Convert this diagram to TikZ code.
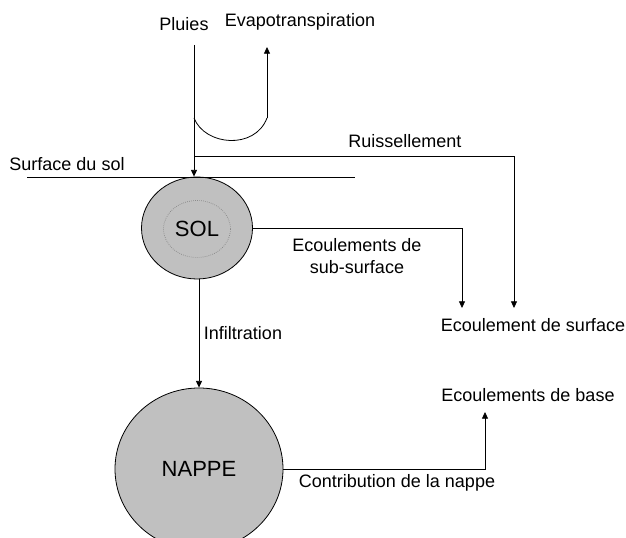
\documentclass[tikz,border=0pt]{standalone}
\usepackage{fontspec}
\setmainfont{Liberation Sans}
\usepackage{tikz}
\usetikzlibrary{shapes.geometric,arrows.meta}

\definecolor{reservoir}{RGB}{192,192,192}

\tikzset{
  flow/.style={line width=0.6pt,-{Triangle[length=5pt,width=4.5pt]}},
  plain/.style={line width=0.6pt},
  label/.style={inner sep=0.75pt,align=center,font=\fontsize{13.5}{16}\selectfont},
  tank/.style={ellipse,draw,line width=0.6pt,fill=reservoir,inner sep=0pt,font=\fontsize{16.5}{19}\selectfont}
}

\begin{document}
\begin{tikzpicture}[x=0.75pt,y=0.75pt,yscale=-1,xscale=1]
\useasboundingbox (0,0) rectangle (626,538);

% Reservoirs
\node [tank,minimum width=83.25pt,minimum height=76.5pt] (sol) at (197,228) {};
\node [ellipse,draw,densely dotted,gray,line width=0.5pt,minimum width=50.25pt,minimum height=42.75pt] (solin) at (197,229) {};
\node [inner sep=0pt,font=\fontsize{16.5}{19}\selectfont] (soltxt) at (197,229) {SOL};
\node [tank,minimum width=126pt,minimum height=121.5pt] (nappe) at (199,469) {NAPPE};

% Text Node
\node [label] (pluies) at (184,24) {Pluies};
\node [label] (evapo) at (300,22) {Evapotranspiration};
\node [label] (surfsol) at (67,164) {Surface du sol};
\node [label] (ruiss) at (405,141) {Ruissellement};
\node [label] (subsurf) at (357,256) {Ecoulements de\\sub-surface};
\node [label] (ecsurf) at (533,325) {Ecoulement de surface};
\node [label] (infil) at (243,333) {Infiltration};
\node [label] (ecbase) at (528,395) {Ecoulements de base};
\node [label] (contrib) at (397,483) {Contribution de la nappe};

% Points on the lines
\coordinate (p0) at (194,45);
\coordinate (e0) at (194,118);
\coordinate (e1) at (267,118);
\coordinate (e2) at (267,47);
\coordinate (r0) at (194,156);
\coordinate (r1) at (514,308);
\coordinate (s1) at (462,308);
\coordinate (b1) at (485,412);
\coordinate (g0) at (27,177);
\coordinate (g1) at (355,177);

% Ground surface
\draw [plain] (g0) -- (g1);

% Rain and evapotranspiration
\draw [flow] (p0) -- (p0 |- sol.north);
\draw [plain] (e0) .. controls (205,146) and (255,150) .. (e1);
\draw [flow] (e1) -- (e2);

% Runoff and sub-surface flow
\draw [flow] (r0) -| (r1);
\draw [flow] (sol.east) -| (s1);

% Infiltration
\draw [flow] (nappe.north |- sol.south) -- (nappe.north);

% Base flow
\draw [flow] (nappe.east) -| (b1);

\end{tikzpicture}
\end{document}
